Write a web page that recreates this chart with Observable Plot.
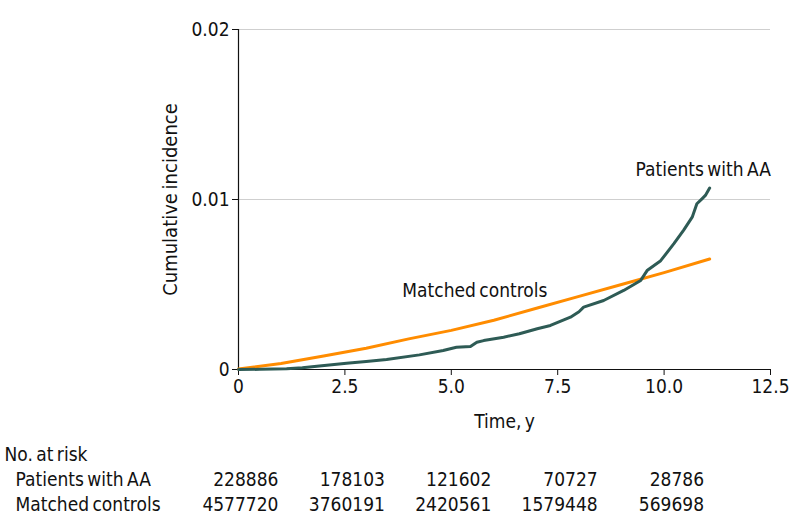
<!DOCTYPE html>
<html>
<head>
<meta charset="utf-8">
<script src="https://cdn.jsdelivr.net/npm/d3@7"></script>
<script src="https://cdn.jsdelivr.net/npm/@observablehq/plot@0.6"></script>
<style>
  html, body { margin: 0; padding: 0; background: white; }
  #chart { width: 794px; }
  svg { display: block; }
  #chart text { word-spacing: -2px; }
</style>
</head>
<body>
<div id="chart"></div>
<script>
// Matched controls cumulative incidence
const ctrlTime = [0, 1, 2, 3, 4, 5, 6, 7, 8, 9, 10, 11.07];
const ctrlInc  = [0.00003, 0.00035, 0.0008, 0.00125, 0.0018, 0.0023, 0.0029, 0.0036, 0.0043, 0.0050, 0.0057, 0.0065];

// Patients with AA cumulative incidence
const aaTime = [0, 0.5, 1.13, 1.5, 1.9, 2.54, 3.0, 3.48, 4.25, 4.81, 5.12, 5.45, 5.6, 5.76, 6.23, 6.6, 7.02, 7.33, 7.8, 8.0, 8.11, 8.58, 9.05, 9.45, 9.6, 9.92, 10.23, 10.46, 10.66, 10.77, 10.89, 10.97, 11.07];
const aaInc  = [0, 0.00001, 0.00004, 0.0001, 0.0002, 0.00037, 0.00047, 0.00059, 0.00086, 0.00112, 0.00131, 0.00135, 0.0016, 0.0017, 0.0019, 0.0021, 0.0024, 0.00259, 0.00308, 0.0034, 0.00367, 0.00406, 0.00465, 0.00524, 0.00582, 0.0064, 0.0074, 0.0082, 0.00896, 0.00975, 0.01004, 0.01024, 0.01067];

// Axis ticks
const xTicks = [0, 2.5, 5.0, 7.5, 10.0, 12.5];
const yTicks = [0, 0.01, 0.02];

// Line labels
const labelText = ["Patients with AA", "Matched controls"];
const labelTime = [9.33, 3.85];
const labelInc  = [0.01176, 0.00460];

// Number at risk table
const riskTimes = [0, 2.5, 5.0, 7.5, 10.0];
const riskRows = ["No. at risk", "Patients with AA", "Matched controls"];
const riskAA   = [228886, 178103, 121602, 70727, 28786];
const riskCtrl = [4577720, 3760191, 2420561, 1579448, 569698];

const orange = "#FF8C00";
const green = "#2E5B55";
const font = "'DejaVu Sans Condensed', 'DejaVu Sans', sans-serif";
const fs = 19;

const ctrl = ctrlTime.map((t, i) => ({t, v: ctrlInc[i]}));
const aa = aaTime.map((t, i) => ({t, v: aaInc[i]}));
const labels = labelText.map((s, i) => ({s, t: labelTime[i], v: labelInc[i]}));

const main = Plot.plot({
  width: 794,
  height: 435,
  marginTop: 29,
  marginBottom: 66,
  marginLeft: 238,
  marginRight: 24,
  style: {fontFamily: font, fontSize: fs + "px", color: "#111", background: "white", overflow: "visible"},
  x: {domain: [0, 12.5]},
  y: {domain: [0, 0.02]},
  marks: [
    Plot.gridY([0.01, 0.02], {stroke: "#cfcfcf", strokeOpacity: 1, strokeWidth: 1.2}),
    Plot.axisY({ticks: yTicks, tickFormat: d => d === 0 ? "0" : d.toFixed(2), tickSize: 6, tickPadding: 3, label: null, fontSize: fs}),
    Plot.axisX({ticks: xTicks, tickFormat: d => d === 0 ? "0" : d.toFixed(1), tickSize: 6, tickPadding: 4, label: null, fontSize: fs}),
    Plot.ruleY([0], {stroke: "#111", strokeWidth: 1.2}),
    Plot.ruleX([0], {stroke: "#111", strokeWidth: 1.2}),
    Plot.line(ctrl, {x: "t", y: "v", stroke: orange, strokeWidth: 3}),
    Plot.line(aa, {x: "t", y: "v", stroke: green, strokeWidth: 3}),
    Plot.text(labels, {x: "t", y: "v", text: "s", textAnchor: "start", fontSize: fs, fill: "#111"}),
    Plot.text(["Cumulative incidence"], {frameAnchor: "left", textAnchor: "middle", lineAnchor: "middle", rotate: -90, dx: -68, fontSize: 20, fill: "#111"}),
    Plot.text(["Time, y"], {frameAnchor: "bottom", textAnchor: "middle", lineAnchor: "middle", dy: 52, fontSize: fs, fill: "#111"})
  ]
});

const tableData = [];
riskTimes.forEach((t, i) => {
  tableData.push({t, row: riskRows[1], n: riskAA[i]});
  tableData.push({t, row: riskRows[2], n: riskCtrl[i]});
});

const table = Plot.plot({
  width: 794,
  height: 97,
  marginTop: 0,
  marginBottom: 0,
  marginLeft: 0,
  marginRight: 0,
  style: {fontFamily: font, fontSize: fs + "px", color: "#111", background: "white"},
  x: {domain: [0, 12.5], range: [238, 770], axis: null},
  y: {domain: riskRows, type: "point", padding: 0, range: [18, 69], axis: null},
  marks: [
    Plot.text([riskRows[0]], {y: d => d, frameAnchor: "left", textAnchor: "start", dx: 4, fontSize: fs, fill: "#111"}),
    Plot.text(riskRows.slice(1), {y: d => d, frameAnchor: "left", textAnchor: "start", dx: 15, fontSize: fs, fill: "#111"}),
    Plot.text(tableData, {x: "t", y: "row", text: d => String(d.n), textAnchor: "end", dx: 40, fontSize: fs, fill: "#111"})
  ]
});

const el = document.getElementById("chart");
el.appendChild(main);
el.appendChild(table);
</script>
</body>
</html>
